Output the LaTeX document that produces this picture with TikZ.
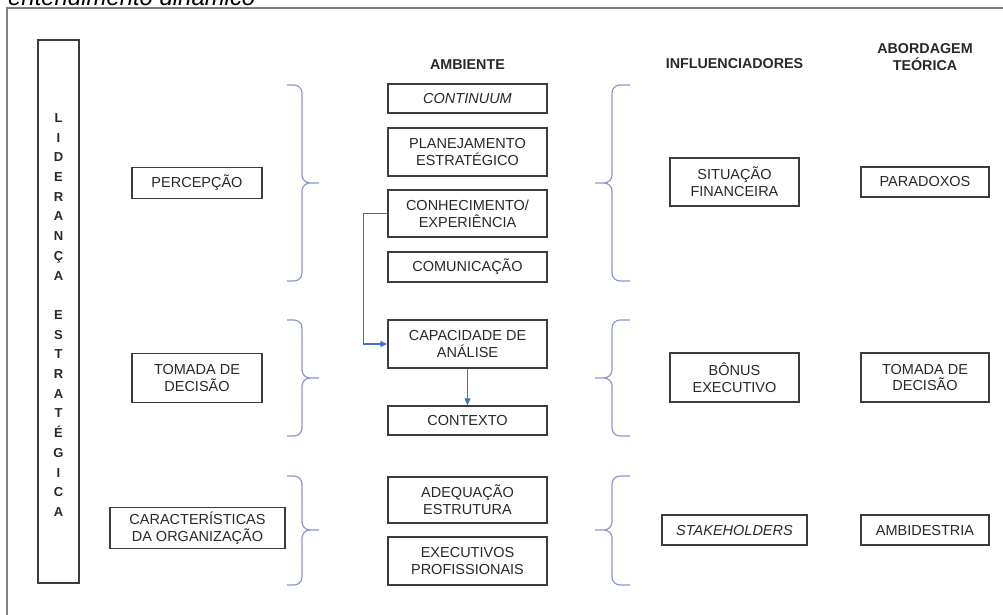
\documentclass[tikz,border=0pt]{standalone}
\usepackage{fontspec}
\setmainfont{Liberation Sans}
\usepackage{tikz}
\usetikzlibrary{arrows.meta}
\usepackage{xcolor}
\definecolor{ColFrame}{RGB}{128,128,128}
\definecolor{ColBox}{RGB}{60,60,60}
\definecolor{ColText}{RGB}{40,40,40}
\definecolor{ColBrace}{RGB}{140,150,205}
\definecolor{ColLink}{RGB}{68,114,196}
\tikzstyle{BoxItem}=[draw=ColBox,line width=1.5pt,text=ColText,align=center,inner sep=0pt,
font=\fontsize{14.5}{16.7}\selectfont]
\tikzstyle{HeadText}=[text=ColText,align=center,inner sep=0pt,font=\bfseries\fontsize{14.3}{17}\selectfont]
\tikzstyle{BraceGroup}=[ColBrace,line width=1.2pt,rounded corners=8pt]
\tikzstyle{LinkArrow}=[ColLink,line width=1.2pt,-{Triangle[length=7pt,width=6pt]}]

\begin{document}
\begin{tikzpicture}[x=1pt,y=-1pt]
        \useasboundingbox(0,0)rectangle(1003,614);
        \clip(0,0)rectangle(1003,614);
        % frame and caption
        \draw[ColFrame,line width=2pt](7,620)--(7,8)--(1010,8);
        \node[anchor=base west,inner sep=0pt,font=\itshape\fontsize{23.9}{26}\selectfont](caption)at(8,5){entendimento dinâmico};
        % left bar
        \node[BoxItem,minimum width=41pt,minimum height=543pt](lead)at(58.5,311.5){};
        \node[HeadText,font=\bfseries\fontsize{13}{19.7}\selectfont](leadtxt)at(58.5,315)
            {L\\I\\D\\E\\R\\A\\N\\Ç\\A\\[19.7pt]E\\S\\T\\R\\A\\T\\É\\G\\I\\C\\A};
        % headers
        \node[HeadText](hamb)at(467.5,65){AMBIENTE};
        \node[HeadText](hinf)at(734.5,64){INFLUENCIADORES};
        \node[HeadText](habo)at(925,57){ABORDAGEM\\TEÓRICA};
        % first column
        \node[BoxItem,minimum width=130pt,minimum height=31pt](perc)at(197,183){PERCEPÇÃO};
        \node[BoxItem,minimum width=130pt,minimum height=49pt](decide)at(197,378){TOMADA DE\\DECISÃO};
        \node[BoxItem,minimum width=175pt,minimum height=41pt](orgchar)at(197.5,528){CARACTERÍSTICAS\\DA ORGANIZAÇÃO};
        % ambiente
        \node[BoxItem,minimum width=159pt,minimum height=29pt](cont)at(467.5,98.5){\itshape CONTINUUM};
        \node[BoxItem,minimum width=159pt,minimum height=48pt](plan)at(467.5,152){PLANEJAMENTO\\ESTRATÉGICO};
        \node[BoxItem,minimum width=159pt,minimum height=47pt](know)at(467.5,213.5){CONHECIMENTO/\\EXPERIÊNCIA};
        \node[BoxItem,minimum width=159pt,minimum height=30pt](comm)at(467.5,267){COMUNICAÇÃO};
        \node[BoxItem,minimum width=159pt,minimum height=48pt](anal)at(467.5,344){CAPACIDADE DE\\ANÁLISE};
        \node[BoxItem,minimum width=159pt,minimum height=29pt](ctx)at(467.5,420.5){CONTEXTO};
        \node[BoxItem,minimum width=159pt,minimum height=46pt](adeq)at(467.5,500){ADEQUAÇÃO\\ESTRUTURA};
        \node[BoxItem,minimum width=159pt,minimum height=48pt](execs)at(467.5,561){EXECUTIVOS\\PROFISSIONAIS};
        % influenciadores
        \node[BoxItem,minimum width=129pt,minimum height=48pt](fin)at(734.5,182){SITUAÇÃO\\FINANCEIRA};
        \node[BoxItem,minimum width=129pt,minimum height=49pt](bonus)at(734.5,377.5){BÔNUS\\EXECUTIVO};
        \node[BoxItem,minimum width=145pt,minimum height=30pt](stake)at(734.5,530){\itshape STAKEHOLDERS};
        % abordagem teorica
        \node[BoxItem,minimum width=128pt,minimum height=30pt](parad)at(925,182){PARADOXOS};
        \node[BoxItem,minimum width=128pt,minimum height=49pt](decide2)at(925,377.5){TOMADA DE\\DECISÃO};
        \node[BoxItem,minimum width=128pt,minimum height=30pt](ambi)at(925,530){AMBIDESTRIA};
        % braces
        \draw[BraceGroup](287,85)-|(302,183)--(319,183) (319,183)-|(302,281)--(287,281);
        \draw[BraceGroup](287,320)-|(302,378)--(319,378) (319,378)-|(302,436)--(287,436);
        \draw[BraceGroup](287,476)-|(302,530)--(319,530) (319,530)-|(302,585)--(287,585);
        \draw[BraceGroup](630,85)-|(612,183)--(595,183) (595,183)-|(612,281)--(630,281);
        \draw[BraceGroup](630,320)-|(612,378)--(595,378) (595,378)-|(612,436)--(630,436);
        \draw[BraceGroup](630,476)-|(612,530)--(595,530) (595,530)-|(612,585)--(630,585);
        % links
        \draw[LinkArrow](know.west)--++(-24,0)|-(anal.west);
        \draw[LinkArrow](anal.south)--(ctx.north);
    \end{tikzpicture}
\end{document}
